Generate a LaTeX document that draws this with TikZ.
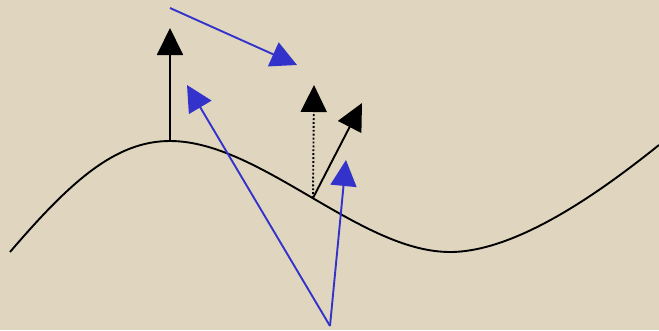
\documentclass[tikz,border=0pt]{standalone}
\usepackage{tikz}
\usepackage{xcolor}
\usetikzlibrary{arrows.meta}

\definecolor{paper}{RGB}{224,214,191}
\definecolor{vecblue}{RGB}{51,51,204}

\begin{document}
\begin{tikzpicture}[x=1pt,y=-1pt,
  vec/.style={line width=1.9pt,-{Triangle[length=27pt,width=26pt]}},
  bluevec/.style={vecblue,line width=1.9pt,-{Triangle[length=26pt,width=26pt]}}]
  \fill[paper] (0,0) rectangle (659,330);
  \useasboundingbox (0,0) rectangle (659,330);
  \coordinate (P) at (170,141);
  \coordinate (Q) at (313,198);
  \coordinate (S) at (330,326);
  \draw[line width=1.9pt] (10,252) .. controls (70,182) and (115,141) .. (P)
    .. controls (260,141) and (360,252) .. (450,252)
    .. controls (520,252) and (609,185) .. (659,145);
  \coordinate (Pn) at (170,28);
  \coordinate (Qv) at (314,85);
  \coordinate (Qn) at (362,103);
  \draw[vec] (P)--(Pn);
  \draw[vec,dotted] (Q)--(Qv);
  \draw[vec] (Q)--(Qn);
  \coordinate (T0) at (170,8);
  \coordinate (T1) at (297,65);
  \coordinate (U1) at (187,85);
  \coordinate (U2) at (346,160);
  \draw[bluevec] (T0)--(T1);
  \draw[bluevec] (S)--(U1);
  \draw[bluevec] (S)--(U2);
\end{tikzpicture}
\end{document}
